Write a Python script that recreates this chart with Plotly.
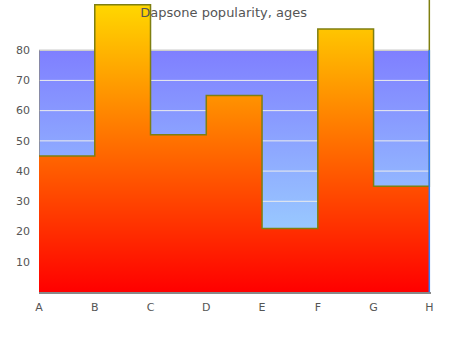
import plotly.graph_objects as go

categories = ["A", "B", "C", "D", "E", "F", "G", "H"]
values = [45, 95, 52, 65, 21, 87, 35, 100]
y_ticks = [10, 20, 30, 40, 50, 60, 70, 80]
band_top = 80
title_text = "Dapsone popularity, ages"

font = "DejaVu Sans, Verdana, sans-serif"
fig = go.Figure()

# blue gradient background band (0..80)
fig.add_trace(go.Scatter(
    x=[categories[0], categories[-1], categories[-1], categories[0], categories[0]],
    y=[0, 0, band_top, band_top, 0],
    mode="none", fill="toself",
    fillgradient=dict(type="vertical",
                      colorscale=[[0, "#a2e2ff"], [1, "#7f7fff"]],
                      start=0, stop=band_top),
    hoverinfo="skip", showlegend=False))

# grid lines
for t in y_ticks[:-1]:
    fig.add_trace(go.Scatter(x=[categories[0], categories[-1]], y=[t, t], mode="lines",
                             line=dict(color="#ececec", width=1),
                             hoverinfo="skip", showlegend=False))
fig.add_trace(go.Scatter(x=[categories[0], categories[-1]], y=[band_top, band_top], mode="lines",
                         line=dict(color="#cccccc", width=1.5),
                         hoverinfo="skip", showlegend=False))
# left border
fig.add_trace(go.Scatter(x=[categories[0], categories[0]], y=[0, band_top], mode="lines",
                         line=dict(color="#888888", width=1.5),
                         hoverinfo="skip", showlegend=False))

# data step area
fig.add_trace(go.Scatter(
    x=categories, y=values, mode="lines", line_shape="hv",
    line=dict(color="#7f7f10", width=1.5),
    fill="tozeroy",
    fillgradient=dict(type="vertical",
                      colorscale=[[0, "#ff0000"], [1, "#ffd700"]],
                      start=0, stop=95),
    showlegend=False))

# right border
fig.add_trace(go.Scatter(x=[categories[-1], categories[-1]], y=[0, band_top], mode="lines",
                         line=dict(color="#2a7cff", width=1.5),
                         hoverinfo="skip", showlegend=False))

fig.update_layout(
    width=450, height=350,
    margin=dict(l=39, r=19, t=0, b=58),
    paper_bgcolor="white", plot_bgcolor="white",
    title=dict(text=title_text, x=0.497, xref="container", xanchor="center",
               y=0.965, yref="container", yanchor="middle",
               font=dict(family=font, size=13, color="#555555")),
    xaxis=dict(type="category", categoryorder="array", categoryarray=categories,
               range=[0, 7.03], showgrid=False, zeroline=False,
               showline=True, linecolor="#888888", linewidth=1.5,
               tickfont=dict(family=font, size=11, color="#555555"),
               ticks="", ticklabelstandoff=4),
    yaxis=dict(range=[0, 96.6], tickvals=y_ticks, showgrid=False, zeroline=False,
               showline=False,
               tickfont=dict(family=font, size=11, color="#555555"),
               ticks="", ticklabelstandoff=8),
)

fig.write_html("out.html")
